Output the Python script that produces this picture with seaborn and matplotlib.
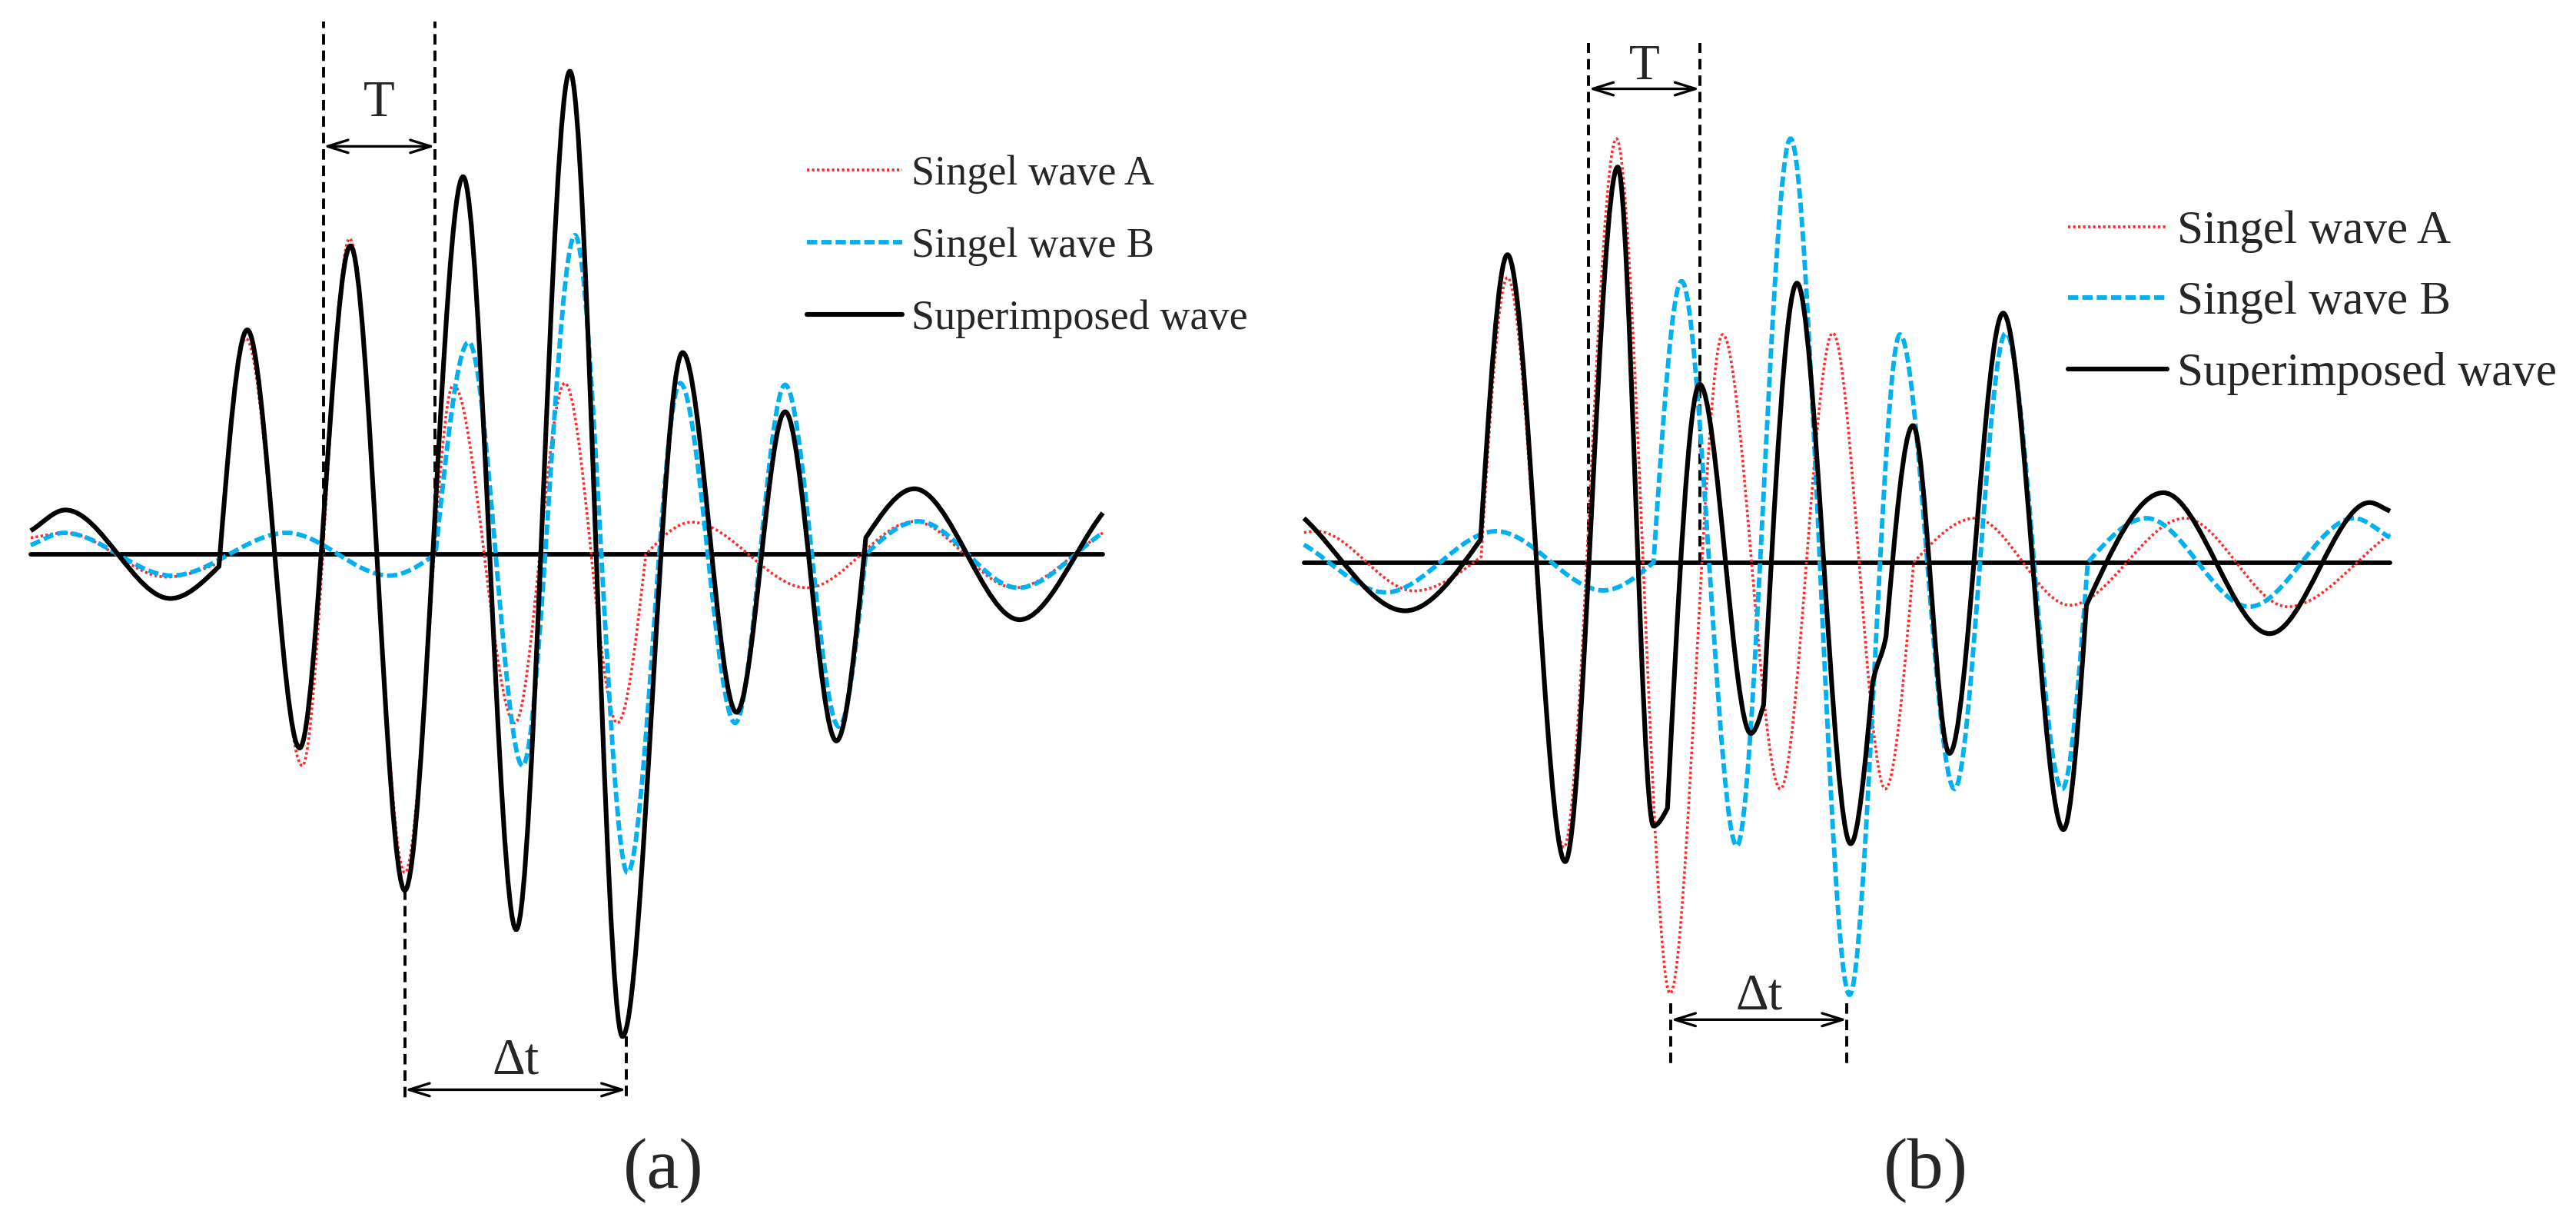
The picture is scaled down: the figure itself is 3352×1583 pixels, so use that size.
import numpy as np
import matplotlib
matplotlib.use("Agg")
import matplotlib.pyplot as plt
from matplotlib.path import Path
from matplotlib.patches import PathPatch
from matplotlib.lines import Line2D
import seaborn as sns

# ---- panel (a): peaks / troughs / kinks (time, amplitude) ----
a_time_A = [18.7, 39.8, 101.3, 133.3, 149.7, 184.0, 212.8, 246.4, 276.0, 313.4, 343.8,
            375.8, 393.1, 421.0, 491.2, 556.6, 617.5, 671.3]
a_amp_A = [10, 13, -13.9, -5.2, 131.2, -128.6, 191.9, -193.6, 103, -102.6, 104,
           -102.6, 0, 19.5, -20.4, 19.9, -20.4, 13]

a_time_B = [18.7, 39.0, 104.5, 174.6, 237.0, 265.1, 285.3, 318.1, 350.0, 382.0, 414.0,
            447.5, 477.9, 510.6, 527.0, 559.0, 619.8, 671.3]
a_amp_B = [5.6, 13, -13, 13, -13, 0, 129, -128.6, 194, -193.6, 104,
           -102.6, 103, -104.8, 0, 20, -20.4, 13]

a_time_S = [18.7, 39.8, 103.7, 133.3, 150.5, 182.4, 213.3, 246.4, 281.9, 314.2, 346.9,
            378.9, 415.5, 448.3, 477.9, 509.1, 527.0, 556.6, 620.6, 671.3]
a_amp_S = [14.3, 26.9, -26.9, -7.4, 136.4, -117.8, 187.5, -204.4, 229.5, -228.2, 293.6,
           -293.2, 122.6, -96.1, 86.6, -113.5, 10, 39.8, -39.8, 25.1]

a_axis = [18.7, 671.3]

# ---- panel (b) ----
b_time_A = [793.7, 801.5, 860.7, 901.6, 917.6, 951.9, 983.9, 1016.6, 1048.6, 1083.7,
            1115.6, 1147.6, 1164.8, 1202.2, 1259.9, 1330.0, 1392.4, 1454.8]
b_amp_A = [18.2, 19, -17.3, 3.5, 173.2, -173.2, 257.7, -262, 138.6, -137.7,
           139.5, -137.7, 0, 26.9, -26, 26.9, -26.9, 17.3]

b_time_B = [793.7, 843.5, 910.6, 976.0, 1006.5, 1023.6, 1057.2, 1089.9, 1125.8, 1156.5,
            1189.7, 1220.9, 1255.2, 1270.8, 1306.6, 1369.1, 1432.9, 1454.8]
b_amp_B = [10.8, -18.2, 19, -17, 0, 171, -172.4, 257.7, -262.9, 138.6,
           -137.7, 139.5, -137.7, 0, 26.9, -26.9, 26.9, 15.2]

b_time_S = [793.7, 855.3, 901.2, 917.6, 952.7, 984.7, 1006.5, 1015.0, 1034.6, 1065.7,
            1073.5, 1093.8, 1126.5, 1139.8, 1148.0, 1164.4, 1186.6, 1219.3, 1256.0,
            1270.0, 1316.8, 1381.5, 1442.3, 1454.8]
b_amp_S = [26.9, -29.4, 13.9, 187.1, -181.9, 240.4, -160.2, -149.4, 108.3, -104,
           -86.6, 169.8, -171, -73.6, -45, 83.2, -116.1, 151.6, -162.4,
           -26, 42.4, -43.3, 36.4, 31.2]

b_axis = [793.7, 1454.8]

labels = ["Singel wave A", "Singel wave B", "Superimposed wave"]

RED = "#ff2a2a"
CYAN = "#00b0f0"
SERIF = ["Liberation Serif", "DejaVu Serif"]


def wave_path(t, y):
    # smooth curve through the knots, drawn as cubic Bezier segments
    t = np.asarray(t, float)
    y = np.asarray(y, float)
    n = len(t)
    d = np.diff(y) / np.diff(t)
    m_in = np.zeros(n)
    m_out = np.zeros(n)
    m_out[0] = d[0]
    m_in[-1] = d[-1]
    for i in range(1, n - 1):
        if d[i - 1] * d[i] <= 0:  # peak or trough -> flat tangent
            continue
        m_in[i] = 1.5 * d[i - 1]
        m_out[i] = 1.5 * d[i]
    verts = [(t[0], y[0])]
    codes = [Path.MOVETO]
    for i in range(n - 1):
        h = t[i + 1] - t[i]
        verts += [(t[i] + h / 3, y[i] + m_out[i] * h / 3),
                  (t[i + 1] - h / 3, y[i + 1] - m_in[i + 1] * h / 3),
                  (t[i + 1], y[i + 1])]
        codes += [Path.CURVE4] * 3
    return Path(verts, codes)


styles = [
    dict(color=RED, lw=1.3, ls=(0, (0.9, 0.9))),
    dict(color=CYAN, lw=2.1, ls=(0, (2.3, 0.9))),
    dict(color="black", lw=2.2, ls="-"),
]


def draw_panel(ax, waves, axis_t):
    sns.lineplot(x=axis_t, y=[0, 0], ax=ax, color="black", lw=2.1)
    for (t, y), st in zip(waves, styles):
        ax.add_patch(PathPatch(wave_path(t, y), fill=False, edgecolor=st["color"],
                               lw=st["lw"], linestyle=st["ls"], capstyle="butt",
                               zorder=3))


def guide(ax, x, y0, y1):
    ax.plot([x, x], [y0, y1], color="black", lw=1.4, ls=(0, (3.5, 2)))


def span(ax, x0, x1, y, txt, ty, size):
    ax.annotate("", xy=(x1, y), xytext=(x0, y),
                arrowprops=dict(arrowstyle="<->,head_length=0.8,head_width=0.25",
                                color="black", lw=1.2, shrinkA=0, shrinkB=0))
    ax.text((x0 + x1) / 2, ty, txt, ha="center", va="center", fontsize=size,
            family=SERIF)


sns.set_theme(style="white")
plt.rcParams["font.family"] = SERIF

fig = plt.figure(figsize=(16.76, 7.915), dpi=200)
ax1 = fig.add_axes([0, 0, 0.5, 1])
ax2 = fig.add_axes([0.5, 0, 0.5, 1])
ax1.set_xlim(0, 784)
ax1.set_ylim(-403, 337)
ax2.set_xlim(784, 1568)
ax2.set_ylim(-398, 342)

draw_panel(ax1, [(a_time_A, a_amp_A), (a_time_B, a_amp_B), (a_time_S, a_amp_S)], a_axis)
draw_panel(ax2, [(b_time_A, b_amp_A), (b_time_B, b_amp_B), (b_time_S, b_amp_S)], b_axis)

# period T and time shift markers
for x in (196.8, 264.8):
    guide(ax1, x, 0, 324)
span(ax1, 196.8, 264.8, 248, "T", 274, 24)
guide(ax1, 246.4, -204, -332)
guide(ax1, 381.2, -293, -332)
span(ax1, 246.4, 381.2, -325.6, "\u0394t", -308, 24)

for x in (967.0, 1034.6):
    guide(ax2, x, 0, 316)
span(ax2, 967.0, 1034.6, 288, "T", 301, 23.5)
guide(ax2, 1017.0, -268, -305)
guide(ax2, 1124.2, -268, -305)
span(ax2, 1017.0, 1124.2, -278, "\u0394t", -264, 24)

# legends
handles = [Line2D([], [], color=st["color"], lw=st["lw"], ls=st["ls"]) for st in styles]
for ax, anchor, size, hl, ls in [(ax1, (491, 187), 19.5, 2.3, 0.8),
                                 (ax2, (1259, 158), 22, 2.1, 0.6)]:
    ax.legend(handles, labels, loc="center left", bbox_to_anchor=anchor,
              bbox_transform=ax.transData, frameon=False, borderpad=0,
              borderaxespad=0, handlelength=hl, handletextpad=0.22,
              labelspacing=ls, prop={"family": SERIF, "size": size})

ax1.text(404, -375, "(a)", ha="center", va="center", fontsize=34, family=SERIF)
ax2.text(1172, -370, "(b)", ha="center", va="center", fontsize=34, family=SERIF)

for ax in (ax1, ax2):
    ax.set_axis_off()

fig.savefig("out.png", dpi=200, facecolor="white")
